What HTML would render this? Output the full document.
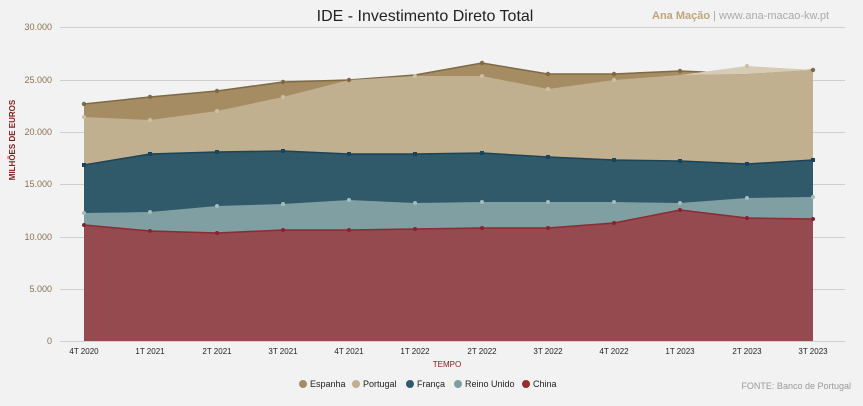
<!DOCTYPE html>
<html><head><meta charset="utf-8"><style>
html,body{margin:0;padding:0;background:#f2f2f2;}
body{width:863px;height:401px;overflow:hidden;font-family:"Liberation Sans",sans-serif;}
</style></head><body>
<svg width="863" height="401" xmlns="http://www.w3.org/2000/svg" font-family="Liberation Sans, sans-serif">
<rect width="863" height="401" fill="#f2f2f2"/>
<g stroke="#cfcfcf" stroke-width="1">
<line x1="60" y1="27.5" x2="845" y2="27.5"/>
<line x1="60" y1="80.5" x2="845" y2="80.5"/>
<line x1="60" y1="132.5" x2="845" y2="132.5"/>
<line x1="60" y1="184.5" x2="845" y2="184.5"/>
<line x1="60" y1="237.5" x2="845" y2="237.5"/>
<line x1="60" y1="289.5" x2="845" y2="289.5"/>
<line x1="60" y1="341.5" x2="845" y2="341.5"/>
</g>
<g font-size="9" fill="#8a7050" text-anchor="end">
<text x="52" y="30">30.000</text><text x="52" y="83">25.000</text><text x="52" y="135">20.000</text>
<text x="52" y="187">15.000</text><text x="52" y="240">10.000</text><text x="52" y="292">5.000</text><text x="52" y="344">0</text>
</g>
<text transform="translate(15,140) rotate(-90)" font-size="8" font-weight="bold" fill="#8b1a1a" text-anchor="middle">MILHÕES DE EUROS</text>
<text x="425" y="21" font-size="16" fill="#222" text-anchor="middle">IDE - Investimento Direto Total</text>
<text x="652" y="19" font-size="11" fill="#c0a47a"><tspan font-weight="bold">Ana Mação</tspan><tspan fill="#aaa"> | www.ana-macao-kw.pt</tspan></text>
<!-- Espanha -->
<polygon fill="#a58c62" points="84,341 84,104 150,97 217,91 283,82 349,80 415,75 482,63 548,74 614,74 680,71 747,74 813,70 813,341"/>
<polyline fill="none" stroke="#7f6a44" stroke-width="1.5" points="84,104 150,97 217,91 283,82 349,80 415,75 482,63 548,74 614,74 680,71 747,74 813,70"/>
<!-- Portugal -->
<polygon fill="#c0b090" points="84,341 84,117 150,120 217,111 283,97 349,80 415,76 482,76 548,89 614,80 680,75 747,74 813,70 813,341"/>
<polygon fill="#d6cbb4" points="680,75 747,66 813,70 747,74"/>
<!-- França -->
<polygon fill="#305a69" points="84,341 84,165 150,154 217,152 283,151 349,154 415,154 482,153 548,157 614,160 680,161 747,164 813,160 813,341"/>
<polyline fill="none" stroke="#1e4356" stroke-width="1.5" points="84,165 150,154 217,152 283,151 349,154 415,154 482,153 548,157 614,160 680,161 747,164 813,160"/>
<!-- Reino Unido -->
<polygon fill="#809fa2" points="84,341 84,213 150,212 217,206 283,204 349,200 415,203 482,202 548,202 614,202 680,203 747,198 813,197 813,341"/>
<!-- China -->
<polygon fill="#944a4e" points="84,341 84,225 150,231 217,233 283,230 349,230 415,229 482,228 548,228 614,223 680,210 747,218 813,219 813,341"/>
<polyline fill="none" stroke="#8b2b32" stroke-width="1.5" points="84,225 150,231 217,233 283,230 349,230 415,229 482,228 548,228 614,223 680,210 747,218 813,219"/>
<!-- markers -->
<g fill="#7f6a44">
<circle cx="84" cy="104" r="2.2"/><circle cx="150" cy="97" r="2.2"/><circle cx="217" cy="91" r="2.2"/><circle cx="283" cy="82" r="2.2"/><circle cx="349" cy="80" r="2.2"/><circle cx="482" cy="63" r="2.2"/><circle cx="548" cy="74" r="2.2"/><circle cx="614" cy="74" r="2.2"/><circle cx="680" cy="71" r="2.2"/><circle cx="813" cy="70" r="2.2"/>
</g>
<g fill="#ccbfa3">
<circle cx="84" cy="117" r="2"/><circle cx="150" cy="120" r="2"/><circle cx="217" cy="111" r="2"/><circle cx="283" cy="97" r="2"/><circle cx="415" cy="76" r="2"/><circle cx="482" cy="76" r="2"/><circle cx="548" cy="89" r="2"/><circle cx="614" cy="80" r="2"/><circle cx="747" cy="66" r="2"/>
</g>
<g fill="#1a4459">
<rect x="82" y="163" width="4" height="4"/><rect x="148" y="152" width="4" height="4"/><rect x="215" y="150" width="4" height="4"/><rect x="281" y="149" width="4" height="4"/><rect x="347" y="152" width="4" height="4"/><rect x="413" y="152" width="4" height="4"/><rect x="480" y="151" width="4" height="4"/><rect x="546" y="155" width="4" height="4"/><rect x="612" y="158" width="4" height="4"/><rect x="678" y="159" width="4" height="4"/><rect x="745" y="162" width="4" height="4"/><rect x="811" y="158" width="4" height="4"/>
</g>
<g fill="#a3bcbf">
<circle cx="84" cy="213" r="2"/><circle cx="150" cy="212" r="2"/><circle cx="217" cy="206" r="2"/><circle cx="283" cy="204" r="2"/><circle cx="349" cy="200" r="2"/><circle cx="415" cy="203" r="2"/><circle cx="482" cy="202" r="2"/><circle cx="548" cy="202" r="2"/><circle cx="614" cy="202" r="2"/><circle cx="680" cy="203" r="2"/><circle cx="747" cy="198" r="2"/><circle cx="813" cy="197" r="2"/>
</g>
<g fill="#8b2030">
<circle cx="84" cy="225" r="2"/><circle cx="150" cy="231" r="2"/><circle cx="217" cy="233" r="2"/><circle cx="283" cy="230" r="2"/><circle cx="349" cy="230" r="2"/><circle cx="415" cy="229" r="2"/><circle cx="482" cy="228" r="2"/><circle cx="548" cy="228" r="2"/><circle cx="614" cy="223" r="2"/><circle cx="680" cy="210" r="2"/><circle cx="747" cy="218" r="2"/><circle cx="813" cy="219" r="2"/>
</g>
<g font-size="8" fill="#222" text-anchor="middle">
<text x="84" y="354">4T 2020</text><text x="150" y="354">1T 2021</text><text x="217" y="354">2T 2021</text><text x="283" y="354">3T 2021</text>
<text x="349" y="354">4T 2021</text><text x="415" y="354">1T 2022</text><text x="482" y="354">2T 2022</text><text x="548" y="354">3T 2022</text>
<text x="614" y="354">4T 2022</text><text x="680" y="354">1T 2023</text><text x="747" y="354">2T 2023</text><text x="813" y="354">3T 2023</text>
</g>
<text x="447" y="367" font-size="8" fill="#8b1a1a" text-anchor="middle">TEMPO</text>
<g font-size="9" fill="#222">
<circle cx="303" cy="384" r="4" fill="#a58c62"/><text x="310" y="387">Espanha</text>
<circle cx="356" cy="384" r="4" fill="#c0b090"/><text x="363" y="387">Portugal</text>
<circle cx="410" cy="384" r="4" fill="#305a69"/><text x="417" y="387">França</text>
<circle cx="458" cy="384" r="4" fill="#809fa2"/><text x="465" y="387">Reino Unido</text>
<circle cx="526" cy="384" r="4" fill="#9a2a33"/><text x="533" y="387">China</text>
</g>
<text x="851" y="389" font-size="9" fill="#999" text-anchor="end">FONTE: Banco de Portugal</text>
</svg>
</body></html>
